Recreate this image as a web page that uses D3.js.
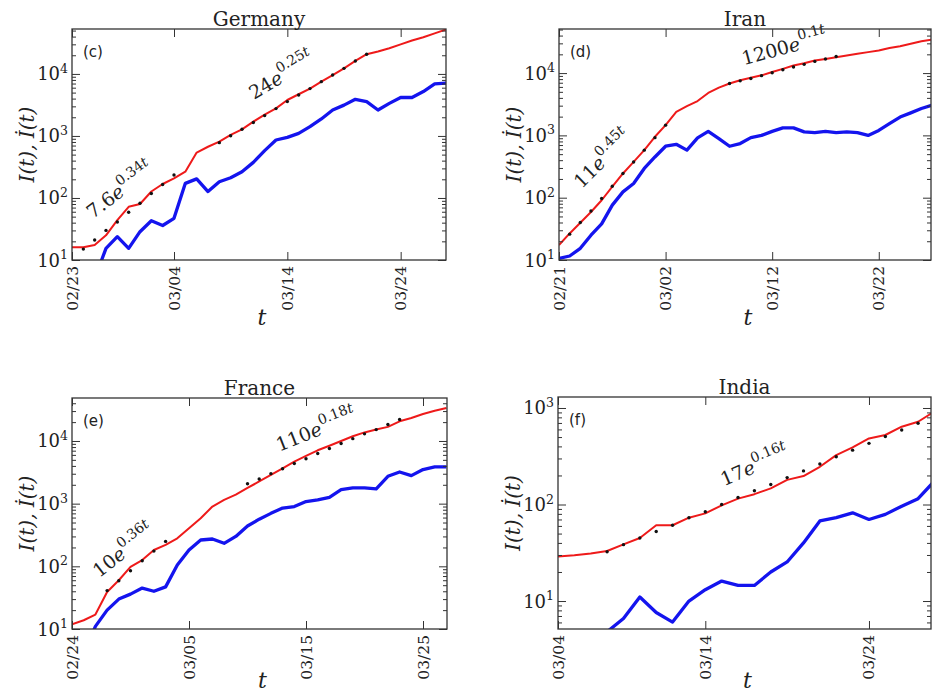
<!DOCTYPE html>
<html>
<head>
<meta charset="utf-8">
<script src="https://cdn.jsdelivr.net/npm/d3@7"></script>
<style>
  body { margin: 0; background: #fff; }
  svg { display: block; }
  .serif { font-family: "DejaVu Serif", serif; fill: #222; }
</style>
</head>
<body>
<div id="chart"></div>
<script>
// ---- data (day index from the left edge of each panel) ----
const germanyTotal = [16, 16, 17.5, 25, 44, 72, 80, 127, 168, 207, 265, 540, 670, 810, 1040, 1280, 1700, 2200, 2780, 3800,
  4700, 5800, 7500, 9600, 12300, 16200, 20800, 23000, 26000, 30000, 34500, 39000, 45000, 52000];
const germanyDailyStart = 2;
const germanyDaily = [5, 15.4, 23.8, 15.4, 28.6, 43, 36, 47, 172, 203, 127, 183, 212, 265, 375, 580, 860, 950, 1100, 1410,
  1880, 2620, 3140, 3900, 3580, 2620, 3350, 4170, 4170, 5200, 6900, 7100];
const germanyFitEarlyStart = 1;
const germanyFitEarly = [15, 21, 30, 41, 59, 82, 118, 165, 235];
const germanyFitLateStart = 13;
const germanyFitLate = [780, 1010, 1280, 1650, 2130, 2760, 3580, 4580, 5800, 7500, 9600, 12300, 16200, 20800];
const germanyTickDays = [0, 9, 19, 29];
const germanyTickLabels = ["02/23", "03/04", "03/14", "03/24"];

const iranTotal = [17.4, 26.7, 39.6, 59, 91, 150, 245, 375, 580, 950, 1460, 2390, 2940, 3560, 4800, 5850, 6800, 7680, 8400, 9200,
  10400, 11700, 13200, 14400, 15900, 16900, 18000, 19200, 20400, 21700, 23000, 25200, 27000, 29500, 32500, 34500];
const iranDailyStart = 0;
const iranDaily = [10.6, 11.6, 15.4, 25, 38, 76, 124, 169, 295, 450, 670, 720, 580, 910, 1160, 890, 670, 740, 920, 1000,
  1160, 1320, 1320, 1140, 1110, 1160, 1110, 1140, 1110, 1000, 1200, 1540, 1970, 2300, 2700, 3050];
const iranFitEarlyStart = 1;
const iranFitEarly = [26, 40, 61, 97, 153, 245, 375, 580, 920, 1460];
const iranFitLateStart = 16;
const iranFitLate = [6800, 7500, 8200, 9100, 10100, 11300, 12500, 13800, 15400, 16800, 18500];
const iranTickDays = [0, 10, 20, 30];
const iranTickLabels = ["02/21", "03/02", "03/12", "03/22"];

const franceTotal = [11.9, 13.8, 17, 39, 60, 98, 126, 182, 220, 280, 405, 585, 900, 1150, 1390, 1780, 2260, 2880, 3670, 4700,
  5800, 7100, 8400, 10000, 11900, 13700, 15200, 16800, 20600, 23300, 27000, 30400, 33500];
const franceDailyStart = 1;
const franceDaily = [4, 11, 20, 30, 36, 45, 40, 47, 105, 182, 263, 273, 233, 300, 440, 565, 700, 850, 900, 1080,
  1150, 1260, 1670, 1780, 1780, 1720, 2730, 3200, 2800, 3500, 3850, 3850];
const franceFitEarlyStart = 3;
const franceFitEarly = [41, 59, 85, 123, 175, 250];
const franceFitLateStart = 15;
const franceFitLate = [2080, 2470, 3010, 3600, 4360, 5200, 6300, 7600, 9100, 10900, 13000, 15200, 18300, 22000];
const franceTickDays = [0, 10, 20, 30];
const franceTickLabels = ["02/24", "03/05", "03/15", "03/25"];

const indiaTotal = [29, 29.8, 31, 33, 38.7, 45, 61, 61, 73, 81, 98, 115, 128, 147, 180, 197, 246, 325, 390, 484,
  525, 640, 720, 920];
const indiaDailyStart = 3;
const indiaDaily = [4.8, 6.6, 11, 7.6, 6.05, 10, 13.1, 16.1, 14.5, 14.5, 20, 25.4, 40, 67.6, 73, 82, 70, 79, 96, 115, 175];
const indiaFitStart = 3;
const indiaFit = [32.4, 38.4, 45, 52.5, 61, 73, 84, 100, 118, 139, 161, 190, 223, 263, 312, 366, 430, 506, 592, 696];
const indiaTickDays = [0, 9, 19];
const indiaTickLabels = ["03/04", "03/14", "03/24"];

const countries = ["Germany", "Iran", "France", "India"];
const panelTags = ["(c)", "(d)", "(e)", "(f)"];

// fit labels: [coefficient, exponent, day, value, angle]
const germanyFits = [["7.6", "0.34", 1.83, 45.6, -37], ["24", "0.25", 16.05, 3800, -31]];
const iranFits = [["11", "0.45", 2.13, 136, -45], ["1200", "0.1", 17.34, 13400, -15]];
const franceFits = [["10", "0.36", 2.33, 64.5, -38], ["110", "0.18", 17.72, 6760, -21.5]];
const indiaFits = [["17", "0.16", 10.14, 155, -23]];

// ---- layout ----
const width = 932, height = 694;
const RED = "#ee1a1a", BLUE = "#1414ee";

const series = (vals, start) => vals.map((v, i) => [start + i, v]);

const panels = [
  { box: [72, 29, 446, 260], xMax: 33, yDomain: [10, 53000], yExp: [1, 2, 3, 4],
    total: germanyTotal, daily: series(germanyDaily, germanyDailyStart),
    dots: series(germanyFitEarly, germanyFitEarlyStart).concat(series(germanyFitLate, germanyFitLateStart)),
    tickDays: germanyTickDays, tickLabels: germanyTickLabels, fits: germanyFits },
  { box: [559, 29, 931, 260], xMax: 34.9, yDomain: [10, 51000], yExp: [1, 2, 3, 4],
    total: iranTotal, daily: series(iranDaily, iranDailyStart),
    dots: series(iranFitEarly, iranFitEarlyStart).concat(series(iranFitLate, iranFitLateStart)),
    tickDays: iranTickDays, tickLabels: iranTickLabels, fits: iranFits },
  { box: [72, 398, 447, 629], xMax: 32.05, yDomain: [10, 48500], yExp: [1, 2, 3, 4],
    total: franceTotal, daily: series(franceDaily, franceDailyStart),
    dots: series(franceFitEarly, franceFitEarlyStart).concat(series(franceFitLate, franceFitLateStart)),
    tickDays: franceTickDays, tickLabels: franceTickLabels, fits: franceFits },
  { box: [558, 397, 931, 629], xMax: 22.79, yDomain: [5.13, 1300], yExp: [1, 2, 3],
    total: indiaTotal, daily: series(indiaDaily, indiaDailyStart),
    dots: series(indiaFit, indiaFitStart),
    tickDays: indiaTickDays, tickLabels: indiaTickLabels, fits: indiaFits }
];

const svg = d3.select("#chart").append("svg")
  .attr("width", width)
  .attr("height", height);

panels.forEach((p, idx) => {
  const [x0, y0, x1, y1] = p.box;
  const w = x1 - x0, h = y1 - y0;
  const g = svg.append("g").attr("transform", `translate(${x0},${y0})`);

  const x = d3.scaleLinear().domain([0, p.xMax]).range([0, w]);
  const y = d3.scaleLog().domain(p.yDomain).range([h, 0]);

  const clipId = "clip" + idx;
  g.append("clipPath").attr("id", clipId)
    .append("rect").attr("width", w).attr("height", h);
  const plot = g.append("g").attr("clip-path", `url(#${clipId})`);

  const line = d3.line().x((d) => x(d[0])).y((d) => y(d[1]));

  plot.append("path")
    .datum(p.daily)
    .attr("d", line)
    .attr("fill", "none")
    .attr("stroke", BLUE)
    .attr("stroke-width", 3.3)
    .attr("stroke-linejoin", "round");

  plot.append("path")
    .datum(p.total.map((v, i) => [i, v]))
    .attr("d", line)
    .attr("fill", "none")
    .attr("stroke", RED)
    .attr("stroke-width", 2)
    .attr("stroke-linejoin", "round");

  plot.selectAll("circle")
    .data(p.dots)
    .join("circle")
    .attr("cx", (d) => x(d[0]))
    .attr("cy", (d) => y(d[1]))
    .attr("r", 1.7)
    .attr("fill", "#111");

  // minor log ticks
  const minors = [];
  const lo = Math.floor(Math.log10(p.yDomain[0])), hi = Math.ceil(Math.log10(p.yDomain[1]));
  for (let e = lo; e < hi; e++) {
    for (let k = 2; k <= 9; k++) {
      const v = k * Math.pow(10, e);
      if (v > p.yDomain[0] && v < p.yDomain[1]) minors.push(v);
    }
  }
  const majors = p.yExp.map((e) => Math.pow(10, e));

  const tickStyle = (sel) => {
    sel.select(".domain").remove();
    sel.selectAll("line").attr("stroke", "#333").attr("stroke-width", 1);
  };

  g.append("g").call(d3.axisLeft(y).tickValues(minors).tickSize(-4).tickFormat("")).call(tickStyle);
  g.append("g").call(d3.axisLeft(y).tickValues(majors).tickSize(-8).tickFormat("")).call(tickStyle);
  g.append("g").attr("transform", `translate(${w},0)`)
    .call(d3.axisRight(y).tickValues(minors).tickSize(-4).tickFormat("")).call(tickStyle);
  g.append("g").attr("transform", `translate(${w},0)`)
    .call(d3.axisRight(y).tickValues(majors).tickSize(-8).tickFormat("")).call(tickStyle);
  g.append("g").attr("transform", `translate(0,${h})`)
    .call(d3.axisBottom(x).tickValues(p.tickDays).tickSize(-8).tickFormat("")).call(tickStyle);
  g.append("g")
    .call(d3.axisTop(x).tickValues(p.tickDays).tickSize(-8).tickFormat("")).call(tickStyle);

  // frame
  g.append("rect")
    .attr("width", w).attr("height", h)
    .attr("fill", "none")
    .attr("stroke", "#333")
    .attr("stroke-width", 1.3);

  // y tick labels 10^n
  const yl = g.selectAll(".ylab")
    .data(p.yExp)
    .join("text")
    .attr("class", "ylab serif")
    .attr("x", -4)
    .attr("y", (e) => y(Math.pow(10, e)) + 6.5)
    .attr("text-anchor", "end")
    .style("font-size", "18px");
  yl.append("tspan").text("10");
  yl.append("tspan").attr("dy", -7.5).style("font-size", "12.5px").text((e) => e);

  // x tick labels, rotated
  g.selectAll(".xlab")
    .data(p.tickDays)
    .join("text")
    .attr("class", "xlab serif")
    .attr("transform", (d, i) => `translate(${x(d) + 5.5},${h + 6}) rotate(-90)`)
    .attr("text-anchor", "end")
    .style("font-size", "15.5px")
    .text((d, i) => p.tickLabels[i]);

  // title
  g.append("text")
    .attr("class", "serif")
    .attr("x", w / 2)
    .attr("y", -3.5)
    .attr("text-anchor", "middle")
    .style("font-size", "20px")
    .text(countries[idx]);

  // panel tag
  g.append("text")
    .attr("x", 11)
    .attr("y", 28)
    .style("font-family", "'DejaVu Sans', sans-serif")
    .style("font-size", "15px")
    .attr("fill", "#222")
    .text(panelTags[idx]);

  // axis labels
  g.append("text")
    .attr("class", "serif")
    .attr("x", w / 2 + 3)
    .attr("y", idx < 2 ? h + 65 : h + 59)
    .attr("text-anchor", "middle")
    .style("font-size", "22px")
    .style("font-style", "italic")
    .text("t");

  g.append("text")
    .attr("class", "serif")
    .attr("transform", `translate(${-38},${h / 2}) rotate(-90)`)
    .attr("text-anchor", "middle")
    .style("font-size", "20px")
    .style("font-style", "italic")
    .text("I(t), \u0130(t)");

  // exponential fit labels
  p.fits.forEach(([coef, rate, day, val, angle]) => {
    const tx = x(day), ty = y(val);
    const t = g.append("text")
      .attr("class", "serif")
      .attr("transform", `translate(${tx},${ty}) rotate(${angle})`)
      .style("font-size", "19px");
    t.append("tspan").text(coef);
    t.append("tspan").style("font-style", "italic").text("e");
    t.append("tspan").attr("dy", -10).style("font-size", "14px").text(rate);
    t.append("tspan").style("font-size", "14px").style("font-style", "italic").text("t");
  });
});
</script>
</body>
</html>
